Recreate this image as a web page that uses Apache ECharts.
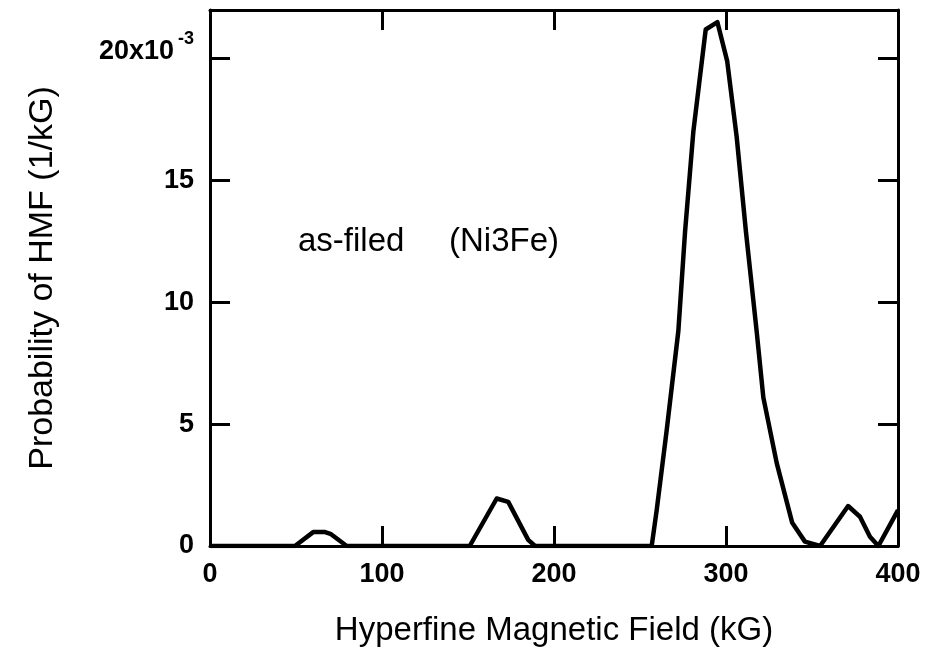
<!DOCTYPE html>
<html>
<head>
<meta charset="utf-8">
<script src="https://cdn.jsdelivr.net/npm/echarts@6/dist/echarts.min.js"></script>
<style>
  html, body { margin: 0; padding: 0; background: #fff; }
  #chart { width: 930px; height: 651px; }
</style>
</head>
<body>
<div id="chart"></div>
<script>
// hyperfine field (kG) and probability (x10^-3 per kG)
const fieldKG = [0, 49.4, 60, 66.9, 70, 79.5, 151, 166.7, 173.4, 185, 189, 256.8, 259.7, 265.5, 272.3, 276.2, 281, 288.2, 295, 300.7, 306.2, 311.6, 317.8, 321.7, 329.5, 338.5, 345.9, 354.7, 371, 377.9, 383.7, 388.6, 400]
const probHMF = [0, 0, 0.57, 0.57, 0.5, 0, 0, 1.95, 1.81, 0.25, 0, 0, 1.47, 4.74, 8.83, 12.9, 17.0, 21.2, 21.5, 19.9, 16.8, 12.9, 8.83, 6.1, 3.4, 0.95, 0.18, 0, 1.64, 1.2, 0.38, 0, 1.47]
const xTicks = [0, 100, 200, 300, 400]
const yTicks = [0, 5, 10, 15, 20]

const font = 'Liberation Sans, Arial, Helvetica, sans-serif'
const black = '#000'

const chart = echarts.init(document.getElementById('chart'))

function frameAxis(extra) {
  return Object.assign({
    type: 'value',
    axisLine: { show: true, onZero: false, lineStyle: { color: black, width: 3 } },
    axisTick: { show: true, inside: true, length: 20, lineStyle: { color: black, width: 3 } },
    splitLine: { show: false }
  }, extra)
}

chart.setOption({
  animation: false,
  backgroundColor: '#fff',
  grid: { left: 210, right: 32, top: 10, bottom: 105, outerBoundsMode: 'none' },
  xAxis: [
    frameAxis({
      min: xTicks[0], max: xTicks[xTicks.length - 1], interval: 100,
      name: 'Hyperfine Magnetic Field (kG)',
      nameLocation: 'middle', nameGap: 68,
      nameTextStyle: { fontFamily: font, fontSize: 33, color: black },
      axisLabel: { margin: 15, fontFamily: font, fontSize: 27, fontWeight: 'bold', color: black }
    }),
    frameAxis({
      position: 'top',
      min: xTicks[0], max: xTicks[xTicks.length - 1], interval: 100,
      axisLabel: { show: false }
    })
  ],
  yAxis: [
    frameAxis({
      min: 0, max: 22, interval: 5,
      name: 'Probability of HMF (1/kG)',
      nameLocation: 'middle', nameGap: 150, nameRotate: 90,
      nameTextStyle: { fontFamily: font, fontSize: 34, color: black },
      axisLabel: {
        margin: 16, showMaxLabel: false,
        fontFamily: font, fontSize: 27, fontWeight: 'bold', color: black,
        formatter: v => v === yTicks[yTicks.length - 1] ? '{a|20x10}{s|-3}' : String(v),
        rich: {
          a: { fontFamily: font, fontSize: 27, fontWeight: 'bold', color: black, padding: [8, 0, 22, 0] },
          s: { fontFamily: font, fontSize: 18, fontWeight: 'bold', color: black, verticalAlign: 'top', padding: [0, 0, 0, 4] }
        }
      }
    }),
    frameAxis({
      position: 'right',
      min: 0, max: 22, interval: 5,
      axisLabel: { show: false }
    })
  ],
  graphic: [{
    type: 'text',
    left: 298, top: 225,
    style: {
      text: '{a|as-filed}{b|(Ni3Fe)}',
      rich: {
        a: { fontFamily: font, fontSize: 33, fill: black, width: 151 },
        b: { fontFamily: font, fontSize: 33, fill: black }
      }
    }
  }],
  series: [{
    type: 'line',
    data: fieldKG.map((x, i) => [x, probHMF[i]]),
    showSymbol: false,
    lineStyle: { color: black, width: 4.5, join: 'round' },
    z: 3
  }]
})
</script>
</body>
</html>
